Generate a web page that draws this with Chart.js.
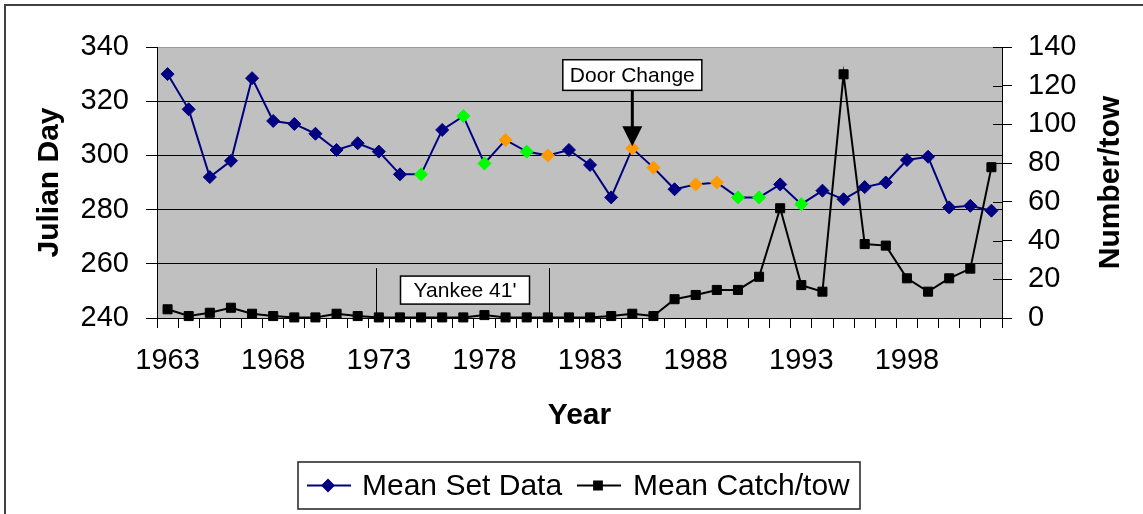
<!DOCTYPE html>
<html>
<head>
<meta charset="utf-8">
<script src="https://cdn.jsdelivr.net/npm/chart.js@4/dist/chart.umd.min.js"></script>
<style>
  html, body { margin: 0; padding: 0; background: #fff; }
  #wrap { width: 1143px; height: 514px; }
</style>
</head>
<body>
<div id="wrap"><canvas id="c" width="1143" height="514"></canvas></div>
<script>
// ---- Data ----
const years = [1963,1964,1965,1966,1967,1968,1969,1970,1971,1972,
               1973,1974,1975,1976,1977,1978,1979,1980,1981,1982,
               1983,1984,1985,1986,1987,1988,1989,1990,1991,1992,
               1993,1994,1995,1996,1997,1998,1999,2000,2001,2002];

// Mean Set Data (Julian Day, left axis)
const meanSetData = [330,317,292,298,328.5,312.7,311.6,308,302,304.5,
                     301.4,293,293,309.4,314.5,297,305.7,301.4,300,302,
                     296.5,284.5,302.6,295.5,287.5,289.3,290,284.5,284.5,289.3,
                     282,287,283.8,288.3,290,298.3,299.5,280.8,281.4,279.6];

// Marker group for each Mean Set Data point (N = navy, G = green, O = orange)
const setGroup = ['N','N','N','N','N','N','N','N','N','N',
                  'N','N','G','N','G','G','O','G','O','N',
                  'N','N','O','O','N','O','O','G','G','N',
                  'G','N','N','N','N','N','N','N','N','N'];

// Mean Catch/tow (Number/tow, right axis)
const meanCatch = [4.5,1,2.7,5.3,2.2,1,0.3,0.3,2.2,1,
                   0.3,0.3,0.3,0.3,0.3,1.5,0.3,0.3,0.3,0.3,
                   0.3,1,2.2,1,9.7,11.9,14.5,14.5,21.3,56.7,
                   17,13.6,125.9,38.2,37.4,20.5,13.6,20.5,25.5,77.9];

const leftTicks = [240,260,280,300,320,340];
const rightTicks = [0,20,40,60,80,100,120,140];

// Annotations
const yankeeSpan = [1972.85, 1981.05];   // years bounding the "Yankee 41'" period
const yankeeLabel = "Yankee 41'";
const doorChangeYear = 1985;
const doorChangeLabel = 'Door Change';

// ---- Styles ----
const FONT = "'Liberation Sans', Arial, sans-serif";
const groupColor = { N: '#000080', G: '#00FF00', O: '#FF9900' };
const pointColors = setGroup.map(g => groupColor[g]);

const decor = {
  id: 'decor',
  beforeDraw(chart) {
    const { ctx, chartArea: a } = chart;
    ctx.save();
    ctx.fillStyle = '#ffffff';
    ctx.fillRect(0, 0, chart.width, chart.height);
    ctx.fillStyle = '#C0C0C0';
    ctx.fillRect(a.left, a.top, a.right - a.left, a.bottom - a.top);
    ctx.strokeStyle = '#404040';
    ctx.lineWidth = 2;
    ctx.beginPath();
    ctx.moveTo(5, chart.height);
    ctx.lineTo(5, 5);
    ctx.lineTo(chart.width, 5);
    ctx.stroke();
    ctx.restore();
  },
  afterDraw(chart) {
    const { ctx, chartArea: a, scales } = chart;
    const x = scales.x, yl = scales.y, yr = scales.y1;
    ctx.save();

    // inner halves of right-axis tick marks
    ctx.strokeStyle = '#000';
    ctx.lineWidth = 1;
    rightTicks.forEach(v => {
      const py = Math.round(yr.getPixelForValue(v)) + 0.5;
      ctx.beginPath();
      ctx.moveTo(a.right - 9, py);
      ctx.lineTo(a.right, py);
      ctx.stroke();
    });

    // Yankee 41' period lines
    const yTop = yl.getPixelForValue(258.4);
    yankeeSpan.forEach(yr0 => {
      const px = Math.round(x.getPixelForValue(yr0 - years[0])) + 0.5;
      ctx.beginPath();
      ctx.moveTo(px, yTop);
      ctx.lineTo(px, a.bottom);
      ctx.stroke();
    });
    // Yankee box
    const ybCx = x.getPixelForValue(14.08);
    const ybCy = yl.getPixelForValue(250.3);
    const ybW = 129, ybH = 28;
    ctx.fillStyle = '#fff';
    ctx.fillRect(ybCx - ybW / 2, ybCy - ybH / 2, ybW, ybH);
    ctx.lineWidth = 1.5;
    ctx.strokeRect(ybCx - ybW / 2, ybCy - ybH / 2, ybW, ybH);
    ctx.fillStyle = '#000';
    ctx.font = '21px ' + FONT;
    ctx.textAlign = 'center';
    ctx.textBaseline = 'middle';
    ctx.fillText(yankeeLabel, ybCx, ybCy + 1);

    // Door Change box + arrow
    const dIdx = years.indexOf(doorChangeYear);
    const dx = x.getPixelForValue(dIdx);
    const boxTop = yl.getPixelForValue(335.3);
    const boxBot = yl.getPixelForValue(324.0);
    const dbW = 139;
    ctx.fillStyle = '#fff';
    ctx.fillRect(dx - dbW / 2, boxTop, dbW, boxBot - boxTop);
    ctx.strokeRect(dx - dbW / 2, boxTop, dbW, boxBot - boxTop);
    ctx.fillStyle = '#000';
    ctx.fillText(doorChangeLabel, dx, (boxTop + boxBot) / 2 + 1);
    const tipY = yl.getPixelForValue(meanSetData[dIdx]) - 2;
    ctx.lineWidth = 3;
    ctx.beginPath();
    ctx.moveTo(dx, boxBot);
    ctx.lineTo(dx, tipY - 18);
    ctx.stroke();
    ctx.beginPath();
    ctx.moveTo(dx - 10, tipY - 20);
    ctx.lineTo(dx + 10, tipY - 20);
    ctx.lineTo(dx, tipY);
    ctx.closePath();
    ctx.fill();

    // Right axis title (reads bottom to top)
    ctx.save();
    ctx.translate(1111, (a.top + a.bottom) / 2);
    ctx.rotate(-Math.PI / 2);
    ctx.font = 'bold 30px ' + FONT;
    ctx.textAlign = 'center';
    ctx.textBaseline = 'middle';
    ctx.fillText('Number/tow', 0, 0);
    ctx.restore();

    // Legend
    const L = { left: 298, top: 462, right: 860, bottom: 509 };
    ctx.fillStyle = '#fff';
    ctx.fillRect(L.left, L.top, L.right - L.left, L.bottom - L.top);
    ctx.strokeStyle = '#202020';
    ctx.lineWidth = 1.5;
    ctx.strokeRect(L.left, L.top, L.right - L.left, L.bottom - L.top);
    const ly = (L.top + L.bottom) / 2;
    const items = [
      { x0: 307, x1: 351, mx: 328, color: '#000080', style: 'rectRot', text: chart.data.datasets[0].label, tx: 362 },
      { x0: 577, x1: 621, mx: 598, color: '#000000', style: 'rect', text: chart.data.datasets[1].label, tx: 633 }
    ];
    items.forEach(it => {
      ctx.strokeStyle = it.color;
      ctx.lineWidth = 2;
      ctx.beginPath();
      ctx.moveTo(it.x0, ly);
      ctx.lineTo(it.x1, ly);
      ctx.stroke();
      Chart.helpers.drawPoint(ctx, { pointStyle: it.style, radius: 5.5, borderWidth: 1, rotation: 0 }, it.mx, ly);
      ctx.fillStyle = it.color;
      ctx.fill();
      ctx.fillStyle = '#000';
      ctx.font = '30px ' + FONT;
      ctx.textAlign = 'left';
      ctx.textBaseline = 'middle';
      ctx.fillText(it.text, it.tx, ly + 1);
    });

    ctx.restore();
  }
};

new Chart(document.getElementById('c'), {
  type: 'line',
  data: {
    labels: years,
    datasets: [
      {
        label: 'Mean Set Data',
        data: meanSetData,
        yAxisID: 'y',
        borderColor: '#000080',
        borderWidth: 2,
        pointStyle: 'rectRot',
        pointRadius: 6.5,
        pointBackgroundColor: pointColors,
        pointBorderColor: pointColors,
        pointBorderWidth: 1,
        tension: 0,
        order: 1,
        clip: false
      },
      {
        label: 'Mean Catch/tow',
        data: meanCatch,
        yAxisID: 'y1',
        borderColor: '#000000',
        borderWidth: 2,
        pointStyle: 'rect',
        pointRadius: 6.4,
        pointBackgroundColor: '#000000',
        pointBorderColor: '#000000',
        pointBorderWidth: 1,
        tension: 0,
        order: 0,
        clip: false
      }
    ]
  },
  options: {
    responsive: false,
    animation: false,
    devicePixelRatio: 1,
    layout: { padding: { top: 47, left: 0, right: 0, bottom: 0 } },
    plugins: { legend: { display: false }, tooltip: { enabled: false } },
    events: [],
    scales: {
      x: {
        type: 'category',
        offset: true,
        afterFit: s => { s.height = 196; },
        grid: { offset: true, drawOnChartArea: false, tickLength: 10, tickColor: '#000', tickWidth: 1 },
        border: { color: '#000', width: 1 },
        ticks: {
          autoSkip: false, maxRotation: 0, minRotation: 0, padding: 16,
          color: '#000', font: { family: FONT, size: 29 },
          callback: (v, i) => (i % 5 === 0 ? String(years[i]) : '')
        },
        title: {
          display: true, text: 'Year', color: '#000',
          font: { family: FONT, size: 30, weight: 'bold' },
          padding: { top: 0, bottom: 80 }
        }
      },
      y: {
        position: 'left',
        min: 240, max: 340,
        afterFit: s => { s.width = 157; },
        afterBuildTicks: s => { s.ticks = leftTicks.map(v => ({ value: v })); },
        grid: {
          drawOnChartArea: true, tickLength: 11, tickColor: '#000', lineWidth: 1,
          color: c => (c.tick && c.tick.value === 340 ? '#9a9a9a' : '#000')
        },
        border: { color: '#000', width: 1 },
        ticks: { padding: 17, color: '#000', font: { family: FONT, size: 29 } },
        title: {
          display: true, text: 'Julian Day', color: '#000',
          font: { family: FONT, size: 30, weight: 'bold' },
          padding: { top: 32, bottom: 0 }
        }
      },
      y1: {
        position: 'right',
        min: 0, max: 140,
        afterFit: s => { s.width = 141; },
        afterBuildTicks: s => { s.ticks = rightTicks.map(v => ({ value: v })); },
        grid: { drawOnChartArea: false, tickLength: 10, tickColor: '#000', lineWidth: 1 },
        border: { color: '#000', width: 1 },
        ticks: { padding: 16, color: '#000', font: { family: FONT, size: 29 } }
      }
    }
  },
  plugins: [decor]
});
</script>
</body>
</html>
